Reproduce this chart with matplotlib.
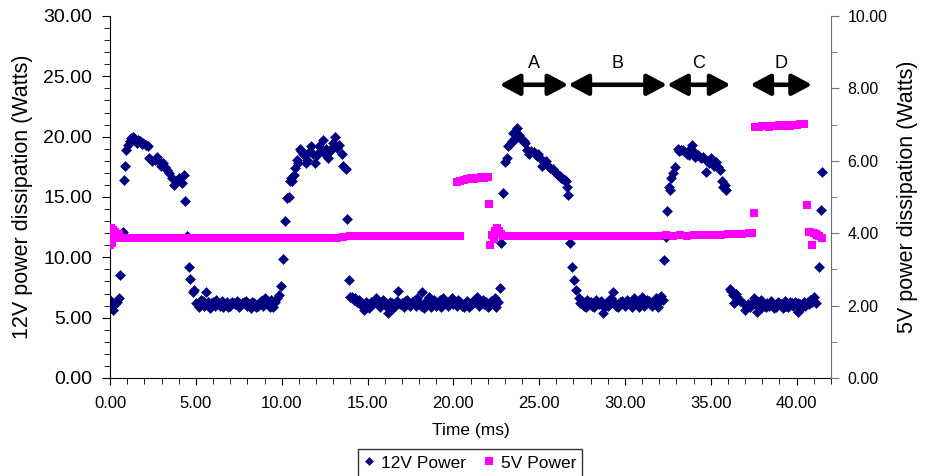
import matplotlib.pyplot as plt
from matplotlib.ticker import MultipleLocator, FormatStrFormatter

plt.rcParams['font.family'] = ['Liberation Sans', 'DejaVu Sans']

# 12V power samples (time in ms, power in W, left axis)
t_12v = [0.0, 0.1, 0.2, 0.3, 0.4, 0.5, 0.6, 0.75, 0.8, 0.87, 0.95, 1.05, 1.15, 1.25, 1.35,
         1.45, 1.55, 1.65, 1.75, 1.85, 1.95, 2.1, 2.2, 2.3, 2.45, 2.6, 2.75, 2.85, 2.98, 3.1,
         3.2, 3.3, 3.46, 3.6, 3.75, 3.85, 4.0, 4.1, 4.2, 4.3, 4.38, 4.5, 4.63, 4.68, 4.82,
         4.9, 5.0, 5.2, 5.4, 5.6, 5.7, 5.8, 6.0, 6.2, 6.4, 6.6, 6.8, 7.0, 7.2, 7.4, 7.6, 7.8,
         8.0, 8.2, 8.4, 8.6, 8.8, 9.0, 9.2, 9.4, 9.5, 9.6, 9.7, 9.85, 9.98, 10.1, 10.2, 10.3,
         10.4, 10.47, 10.55, 10.62, 10.7, 10.8, 10.88, 10.95, 11.05, 11.15, 11.25, 11.4, 11.5,
         11.6, 11.73, 11.85, 11.95, 12.05, 12.2, 12.3, 12.4, 12.5, 12.6, 12.7, 12.8, 12.9,
         13.0, 13.13, 13.25, 13.35, 13.5, 13.6, 13.74, 13.8, 13.9, 14.0, 14.1, 14.2, 14.3,
         14.4, 14.6, 14.8, 15.0, 15.2, 15.4, 15.6, 15.8, 16.0, 16.2, 16.4, 16.6, 16.8, 17.0,
         17.2, 17.4, 17.6, 17.8, 18.0, 18.15, 18.3, 18.4, 18.6, 18.8, 19.0, 19.2, 19.4, 19.6,
         19.8, 20.0, 20.2, 20.4, 20.6, 20.8, 21.0, 21.2, 21.4, 21.6, 21.8, 22.0, 22.2, 22.4,
         22.6, 22.7, 22.8, 22.9, 23.0, 23.1, 23.2, 23.3, 23.4, 23.5, 23.6, 23.7, 23.8, 23.9,
         24.0, 24.1, 24.2, 24.3, 24.4, 24.55, 24.7, 24.85, 24.96, 25.05, 25.15, 25.3, 25.4,
         25.5, 25.65, 25.8, 25.94, 26.05, 26.1, 26.2, 26.3, 26.4, 26.5, 26.56, 26.65, 26.7,
         26.77, 26.9, 27.05, 27.16, 27.3, 27.4, 27.5, 27.7, 27.9, 28.1, 28.3, 28.5, 28.7,
         28.9, 29.1, 29.3, 29.5, 29.7, 29.9, 30.1, 30.3, 30.5, 30.7, 30.8, 31.0, 31.2, 31.4,
         31.6, 31.8, 32.0, 32.1, 32.2, 32.26, 32.36, 32.46, 32.55, 32.6, 32.7, 32.8, 32.94,
         33.07, 33.15, 33.25, 33.4, 33.5, 33.6, 33.7, 33.8, 33.9, 34.0, 34.1, 34.25, 34.4,
         34.55, 34.7, 34.8, 34.9, 35.0, 35.1, 35.2, 35.3, 35.4, 35.55, 35.67, 35.73, 35.8,
         35.9, 36.1, 36.2, 36.3, 36.35, 36.45, 36.55, 36.7, 36.85, 37.0, 37.15, 37.3, 37.5,
         37.6, 37.7, 37.8, 37.95, 38.1, 38.3, 38.5, 38.7, 38.9, 39.1, 39.3, 39.5, 39.7, 39.9,
         40.05, 40.2, 40.4, 40.6, 40.8, 41.0, 41.1, 41.3, 41.4, 41.5]
p_12v = [6.5, 6.0, 5.6, 6.1, 6.3, 6.6, 8.5, 12.1, 16.4, 17.6, 18.9, 19.3, 19.6, 19.9, 20.0,
         19.8, 19.5, 19.7, 19.6, 19.4, 19.5, 19.3, 19.2, 18.2, 18.0, 18.1, 18.3, 18.0, 17.6, 17.8,
         17.5, 17.2, 17.0, 16.6, 16.0, 16.3, 16.6, 16.3, 16.2, 16.8, 14.7, 11.8, 9.2, 8.2, 7.1,
         7.3, 6.2, 5.9, 6.4, 7.15, 6.3, 5.8, 6.3, 6.5, 6.0, 5.9, 6.3, 6.0, 6.2, 6.4, 6.1, 6.3,
         6.0, 5.8, 6.2, 6.0, 6.4, 6.6, 6.2, 6.5, 5.9, 6.3, 6.6, 6.9, 7.6, 9.85, 13.0, 14.9,
         15.0, 16.3, 16.6, 16.3, 16.8, 17.4, 18.1, 17.8, 19.0, 18.8, 18.6, 17.8, 18.1,
         18.7, 19.2, 18.6, 17.8, 18.5, 19.2, 18.9, 19.7, 18.6, 19.0, 18.2, 18.8, 19.0,
         19.5, 20.0, 19.1, 19.3, 18.6, 17.6, 17.3, 13.2, 8.1, 6.7, 6.7, 6.5, 6.6,
         6.3, 6.2, 5.6, 6.0, 6.3, 6.4, 6.1, 6.3, 6.1, 5.4, 6.2, 6.0, 7.2, 6.2,
         6.4, 6.1, 6.3, 6.0, 6.2, 7.1, 5.8, 6.4, 6.7, 6.3, 6.0, 6.5, 6.6, 6.2,
         6.4, 6.1, 6.0, 6.3, 5.9, 6.4, 6.2, 6.5, 6.7, 6.3, 6.1, 5.9, 6.4, 6.6,
         6.3, 7.45, 11.2, 15.3, 17.9, 18.2, 19.2, 19.4, 19.6, 20.3, 19.8, 20.7, 20.1, 19.9,
         19.7, 19.6, 19.5, 18.9, 18.6, 18.8, 18.7, 18.4, 18.6, 18.2, 17.6, 17.9, 18.0,
         17.6, 17.4, 17.3, 17.1, 16.9, 16.8, 16.7, 16.6, 16.5, 16.4, 16.3, 15.85, 15.2,
         11.2, 9.2, 8.1, 7.3, 6.6, 6.2, 6.4, 5.9, 6.3, 6.0, 6.5, 6.1, 5.4,
         6.2, 6.4, 7.15, 6.0, 6.3, 6.2, 6.5, 6.1, 6.6, 6.3, 5.9, 6.7, 6.2, 6.4,
         6.0, 6.6, 6.3, 6.8, 6.5, 9.8, 11.7, 13.8, 15.85, 15.6, 16.6, 16.95, 17.5,
         19.0, 18.8, 18.9, 18.9, 18.7, 18.6, 18.5, 19.0, 19.3, 18.7, 18.3, 18.5, 18.2,
         18.3, 17.1, 18.0, 17.8, 18.2, 17.8, 17.6, 17.9, 17.5, 17.2, 16.3, 15.85, 16.0,
         15.6, 7.4, 7.2, 6.9, 6.2, 7.0, 6.7, 6.4, 6.2, 5.6, 6.1, 5.9, 6.6,
         6.1, 5.5, 6.3, 6.5, 6.0, 6.2, 6.4, 5.8, 6.3, 6.1, 6.4, 5.9, 6.2, 6.3,
         5.5, 6.1, 6.3, 6.2, 6.5, 6.7, 6.2, 9.2, 13.9, 17.1]

# in-between 12V samples of the idle stretches
t_12v_idle = [5.1, 5.3, 5.5, 5.9, 6.1, 6.3, 6.5, 6.7, 6.9, 7.1, 7.3, 7.5, 7.7, 7.9, 8.1,
              8.3, 8.5, 8.7, 8.9, 9.1, 9.3, 14.5, 14.7, 14.9, 15.1, 15.3, 15.5, 15.7, 15.9,
              16.1, 16.3, 16.5, 16.7, 16.9, 17.1, 17.3, 17.5, 17.7, 17.9, 18.1, 18.5, 18.7,
              18.9, 19.1, 19.3, 19.5, 19.7, 19.9, 20.1, 20.3, 20.5, 20.7, 20.9, 21.1, 21.3,
              21.5, 21.7, 21.9, 22.1, 22.3, 22.5, 27.6, 27.8, 28.0, 28.2, 28.4, 28.6, 28.8,
              29.0, 29.2, 29.4, 29.6, 29.8, 30.0, 30.2, 30.4, 30.6, 30.9, 31.1, 31.3, 31.5,
              31.7, 31.9, 37.4, 37.9, 38.0, 38.2, 38.4, 38.6, 38.8, 39.0, 39.2, 39.4, 39.6,
              39.8, 40.0, 40.1, 40.3, 40.5, 40.7, 40.9]
p_12v_idle = [6.1, 6.5, 6.0, 6.2, 6.0, 6.2, 6.4, 6.1, 5.9, 6.3, 6.1, 5.9, 6.2, 6.4, 6.1,
              6.3, 5.9, 6.2, 6.0, 6.3, 5.9, 6.5, 6.0, 6.3, 5.8, 6.1, 6.6, 5.9, 6.5,
              6.0, 6.3, 5.8, 6.4, 6.1, 5.9, 6.5, 6.0, 6.4, 6.6, 6.0, 6.1, 5.9,
              6.5, 6.2, 5.9, 6.3, 6.0, 6.6, 6.3, 6.5, 6.0, 6.2, 5.9, 6.1, 6.4,
              6.0, 6.5, 6.3, 6.0, 6.2, 5.9, 6.0, 6.5, 6.3, 5.9, 6.2, 6.4, 5.9,
              6.0, 6.6, 6.2, 5.9, 6.4, 6.0, 6.3, 5.9, 6.2, 6.4, 6.0, 6.5, 6.1,
              6.3, 5.9, 6.2, 5.8, 6.3, 5.9, 6.0, 6.1, 5.9, 6.2, 5.8, 6.0, 6.3,
              6.0, 6.1, 6.2, 5.9, 6.0, 6.1, 6.3]

# 5V power samples (time in ms, power in W, right axis)
t_5v = [0.0, 0.05, 0.1, 0.15, 0.2, 0.3, 0.4, 0.5, 0.6, 0.8, 1.2, 1.6, 2.0, 2.4, 2.8, 3.2,
        3.6, 4.0, 4.4, 4.8, 5.2, 5.6, 6.0, 6.4, 6.8, 7.2, 7.6, 8.0, 8.4, 8.8, 9.2, 9.6,
        10.0, 10.4, 10.8, 11.2, 11.6, 12.0, 12.4, 12.8, 13.2, 13.6, 14.0, 14.4, 14.8, 15.2,
        15.6, 16.0, 16.4, 16.8, 17.2, 17.6, 18.0, 18.4, 18.8, 19.2, 19.6, 20.0, 20.4,
        20.2, 20.4, 20.6, 20.8, 21.0, 21.2, 21.4, 21.6, 21.8, 22.0,
        22.1, 22.15, 22.25, 22.35, 22.45, 22.55, 22.65, 22.75, 22.9, 23.2, 23.6, 24.0,
        24.4, 24.8, 25.2, 25.6, 26.0, 26.4, 26.8, 27.2, 27.6, 28.0, 28.4, 28.8, 29.2,
        29.6, 30.0, 30.4, 30.8, 31.2, 31.6, 32.0, 32.4, 32.8, 33.2, 33.6, 34.0, 34.4,
        34.8, 35.2, 35.6, 36.0, 36.4, 36.8, 37.2, 37.4, 37.5,
        37.6, 37.8, 38.0, 38.2, 38.4, 38.6, 38.8, 39.0, 39.2, 39.4, 39.6, 39.8, 40.0,
        40.2, 40.4, 40.6, 40.7, 40.8, 40.9, 41.0, 41.1, 41.2, 41.3, 41.45]
p_5v = [3.67, 4.14, 3.72, 4.10, 3.95, 4.04, 3.92, 3.98, 3.88, 3.87, 3.88, 3.86, 3.87, 3.88,
        3.86, 3.87, 3.87, 3.86, 3.88, 3.87, 3.86, 3.87, 3.87, 3.86, 3.87, 3.88, 3.87, 3.86,
        3.87, 3.87, 3.86, 3.87, 3.87, 3.86, 3.87, 3.87, 3.88, 3.87, 3.87, 3.88, 3.88, 3.90,
        3.91, 3.92, 3.92, 3.93, 3.92, 3.92, 3.93, 3.93, 3.92, 3.93, 3.93, 3.92, 3.93, 3.93,
        3.93, 3.92, 3.93,
        5.42, 5.45, 5.48, 5.50, 5.52, 5.50, 5.53, 5.55, 5.52, 5.56,
        4.80, 3.67, 3.95, 3.85, 4.05, 4.13, 4.05, 3.98, 3.93, 3.93, 3.92, 3.93,
        3.93, 3.92, 3.93, 3.93, 3.92, 3.93, 3.93, 3.93, 3.92, 3.93, 3.93, 3.92, 3.93,
        3.93, 3.92, 3.93, 3.93, 3.93, 3.92, 3.93, 3.94, 3.93, 3.94, 3.93, 3.94, 3.94,
        3.95, 3.95, 3.96, 3.97, 3.98, 3.99, 4.00, 4.01, 4.57,
        6.94, 6.92, 6.95, 6.96, 6.94, 6.97, 6.95, 6.98, 6.96, 6.99, 6.97, 7.00, 6.98,
        7.02, 7.03, 4.78, 4.04, 4.02, 3.67, 4.00, 3.97, 3.95, 3.92, 3.87]

# phase markers: label, start, end (ms)
phase_names = ['A', 'B', 'C', 'D']
phase_start = [22.7, 26.7, 32.45, 37.3]
phase_end = [26.7, 32.45, 36.15, 40.9]

fig = plt.figure(figsize=(9.26, 4.76), dpi=100)
ax = fig.add_axes([0.1188, 0.2059, 0.7786, 0.7605])
ax2 = ax.twinx()

navy = '#000080'
ax.plot(t_12v, p_12v, linestyle='none', marker='D', markersize=4.8,
        color=navy, markeredgewidth=0.4, label='12V Power')
ax.plot(t_12v_idle, p_12v_idle, linestyle='none', marker='D', markersize=4.8,
        color=navy, markeredgewidth=0.4)
ax2.plot(t_5v, p_5v, linestyle='none', marker='s', markersize=6.2,
         color='#FF00FF', markeredgewidth=0, label='5V Power')

ax.set_xlim(0, 42)
ax.set_ylim(0, 30)
ax2.set_ylim(0, 10)

ax.xaxis.set_major_locator(MultipleLocator(5))
ax.xaxis.set_minor_locator(MultipleLocator(1))
ax.yaxis.set_major_locator(MultipleLocator(5))
ax.yaxis.set_minor_locator(MultipleLocator(1))
ax2.yaxis.set_major_locator(MultipleLocator(2))
ax2.yaxis.set_minor_locator(MultipleLocator(1))
ax.xaxis.set_major_formatter(FormatStrFormatter('%.2f'))
ax.yaxis.set_major_formatter(FormatStrFormatter('%.2f'))
ax2.yaxis.set_major_formatter(FormatStrFormatter('%.2f'))

for a in (ax, ax2):
    a.spines['top'].set_visible(False)
ax2.spines['left'].set_visible(False)
ax2.spines['bottom'].set_visible(False)
ax.spines['right'].set_visible(False)
ax2.spines['right'].set_color('#707070')

ax.tick_params(axis='x', which='major', length=5, labelsize=12, pad=8)
ax.tick_params(axis='x', which='minor', length=4)
ax.tick_params(axis='y', which='major', length=6, labelsize=14, pad=7)
ax.tick_params(axis='y', which='minor', length=4)
ax2.tick_params(axis='y', which='major', length=6, labelsize=11.5, pad=6, color='#707070')
ax2.tick_params(axis='y', which='minor', length=4, color='#707070')

ax.set_xlabel('Time (ms)', fontsize=12.5)
ax.xaxis.set_label_coords(0.5, -0.125)
ax.set_ylabel('12V power dissipation (Watts)', fontsize=15.5)
ax.yaxis.set_label_coords(-0.107, 0.5)
ax2.set_ylabel('5V power dissipation (Watts)', fontsize=15.5)
ax2.yaxis.set_label_coords(1.0915, 0.5)

# phase arrows with letters above
for name, s, e in zip(phase_names, phase_start, phase_end):
    ax.annotate('', xy=(e, 24.3), xytext=(s, 24.3),
                arrowprops=dict(arrowstyle='<|-|>,head_length=0.6,head_width=0.32',
                                lw=3.3, color='black', shrinkA=0, shrinkB=0,
                                mutation_scale=20))
    ax.text((s + e) / 2, 26.1, name, ha='center', va='center', fontsize=13)

h1, l1 = ax.get_legend_handles_labels()
h2, l2 = ax2.get_legend_handles_labels()
fig.legend(h1 + h2, l1 + l2, loc='upper center', bbox_to_anchor=(0.5076, 0.0561),
           ncol=2, fontsize=12.5, frameon=True, fancybox=False, edgecolor='black',
           handlelength=0.6, handletextpad=0.4, columnspacing=1.0, markerscale=0.85,
           borderpad=0.35, borderaxespad=0)

fig.savefig('out.png', dpi=100)
